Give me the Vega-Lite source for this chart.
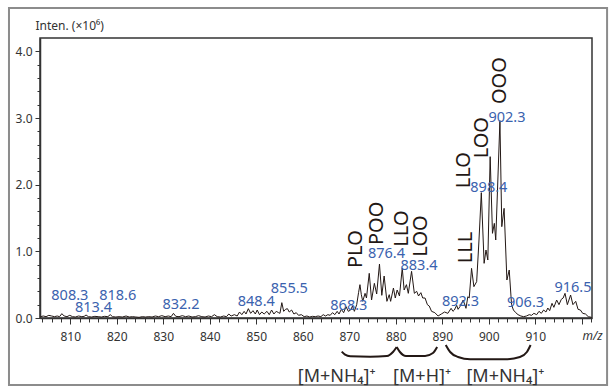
{
  "$schema": "https://vega.github.io/schema/vega-lite/v6.json",
  "width": 552,
  "height": 280,
  "autosize": {"type": "none"},
  "padding": {"left": 40, "top": 38, "right": 19, "bottom": 72},
  "config": {
    "font": "Noto Sans",
    "view": {"stroke": "#333333", "strokeWidth": 1.5},
    "background": "white"
  },
  "datasets": {
    "frame": [{"x": 796.83, "x2": 925.44, "y": 4.65, "y2": -1.005}],
    "spec": [
      {"x": 803.6, "y": 0.02}, {"x": 804.2, "y": 0.03}, {"x": 804.8, "y": 0.02}, {"x": 805.4, "y": 0.04},
      {"x": 806.0, "y": 0.03}, {"x": 806.6, "y": 0.02}, {"x": 807.2, "y": 0.03}, {"x": 807.7, "y": 0.02},
      {"x": 808.2, "y": 0.065}, {"x": 808.7, "y": 0.03}, {"x": 809.3, "y": 0.02}, {"x": 809.9, "y": 0.04},
      {"x": 810.5, "y": 0.02}, {"x": 811.1, "y": 0.015}, {"x": 811.8, "y": 0.03}, {"x": 812.5, "y": 0.02},
      {"x": 813.0, "y": 0.025}, {"x": 813.4, "y": 0.045}, {"x": 813.9, "y": 0.02}, {"x": 814.6, "y": 0.015},
      {"x": 815.3, "y": 0.025}, {"x": 816.0, "y": 0.02}, {"x": 816.7, "y": 0.015}, {"x": 817.4, "y": 0.025},
      {"x": 818.1, "y": 0.02}, {"x": 818.6, "y": 0.05}, {"x": 819.1, "y": 0.02}, {"x": 819.8, "y": 0.015},
      {"x": 820.5, "y": 0.02}, {"x": 821.2, "y": 0.015}, {"x": 822.0, "y": 0.03}, {"x": 822.7, "y": 0.015},
      {"x": 823.4, "y": 0.02}, {"x": 824.1, "y": 0.015}, {"x": 824.8, "y": 0.01}, {"x": 825.5, "y": 0.02},
      {"x": 826.2, "y": 0.015}, {"x": 826.9, "y": 0.02}, {"x": 827.6, "y": 0.015}, {"x": 828.3, "y": 0.03},
      {"x": 829.0, "y": 0.02}, {"x": 829.7, "y": 0.035}, {"x": 830.4, "y": 0.02}, {"x": 831.1, "y": 0.03},
      {"x": 831.7, "y": 0.02}, {"x": 832.2, "y": 0.07}, {"x": 832.7, "y": 0.025}, {"x": 833.4, "y": 0.02},
      {"x": 834.1, "y": 0.035}, {"x": 834.8, "y": 0.02}, {"x": 835.5, "y": 0.03}, {"x": 836.2, "y": 0.015},
      {"x": 836.9, "y": 0.02}, {"x": 837.6, "y": 0.035}, {"x": 838.3, "y": 0.02}, {"x": 839.0, "y": 0.015},
      {"x": 839.7, "y": 0.03}, {"x": 840.4, "y": 0.02}, {"x": 841.0, "y": 0.05}, {"x": 841.6, "y": 0.02},
      {"x": 842.3, "y": 0.015}, {"x": 843.0, "y": 0.03}, {"x": 843.6, "y": 0.02}, {"x": 844.1, "y": 0.06},
      {"x": 844.6, "y": 0.03}, {"x": 845.3, "y": 0.05}, {"x": 845.9, "y": 0.03}, {"x": 846.4, "y": 0.09},
      {"x": 846.9, "y": 0.05}, {"x": 847.4, "y": 0.1}, {"x": 847.8, "y": 0.06}, {"x": 848.3, "y": 0.14},
      {"x": 848.8, "y": 0.07}, {"x": 849.3, "y": 0.11}, {"x": 849.8, "y": 0.06}, {"x": 850.2, "y": 0.12},
      {"x": 850.7, "y": 0.05}, {"x": 851.2, "y": 0.09}, {"x": 851.7, "y": 0.06}, {"x": 852.3, "y": 0.1},
      {"x": 852.8, "y": 0.05}, {"x": 853.3, "y": 0.12}, {"x": 853.8, "y": 0.06}, {"x": 854.3, "y": 0.1},
      {"x": 854.8, "y": 0.08}, {"x": 855.1, "y": 0.07}, {"x": 855.5, "y": 0.23}, {"x": 855.9, "y": 0.1},
      {"x": 856.3, "y": 0.13}, {"x": 856.7, "y": 0.14}, {"x": 857.1, "y": 0.09}, {"x": 857.6, "y": 0.12},
      {"x": 858.1, "y": 0.06}, {"x": 858.6, "y": 0.08}, {"x": 859.1, "y": 0.04}, {"x": 859.7, "y": 0.05},
      {"x": 860.3, "y": 0.02}, {"x": 860.9, "y": 0.03}, {"x": 861.5, "y": 0.015}, {"x": 862.1, "y": 0.025},
      {"x": 862.7, "y": 0.02}, {"x": 863.3, "y": 0.03}, {"x": 863.9, "y": 0.02}, {"x": 864.4, "y": 0.05},
      {"x": 864.9, "y": 0.03}, {"x": 865.4, "y": 0.05}, {"x": 865.9, "y": 0.04}, {"x": 866.4, "y": 0.08},
      {"x": 866.9, "y": 0.05}, {"x": 867.4, "y": 0.1}, {"x": 867.8, "y": 0.06}, {"x": 868.3, "y": 0.13},
      {"x": 868.8, "y": 0.08}, {"x": 869.3, "y": 0.17}, {"x": 869.8, "y": 0.1}, {"x": 870.3, "y": 0.12},
      {"x": 870.7, "y": 0.18}, {"x": 871.1, "y": 0.1}, {"x": 871.6, "y": 0.2}, {"x": 872.0, "y": 0.38},
      {"x": 872.3, "y": 0.5}, {"x": 872.6, "y": 0.35}, {"x": 872.9, "y": 0.25}, {"x": 873.4, "y": 0.37},
      {"x": 873.7, "y": 0.3}, {"x": 874.3, "y": 0.67}, {"x": 874.8, "y": 0.27}, {"x": 875.4, "y": 0.52},
      {"x": 875.9, "y": 0.36}, {"x": 876.5, "y": 0.81}, {"x": 877.0, "y": 0.34}, {"x": 877.5, "y": 0.63},
      {"x": 878.1, "y": 0.25}, {"x": 878.6, "y": 0.35}, {"x": 878.9, "y": 0.25}, {"x": 879.5, "y": 0.45},
      {"x": 879.9, "y": 0.3}, {"x": 880.3, "y": 0.42}, {"x": 880.8, "y": 0.33}, {"x": 881.4, "y": 0.75},
      {"x": 881.8, "y": 0.42}, {"x": 882.3, "y": 0.5}, {"x": 882.7, "y": 0.37}, {"x": 883.4, "y": 0.7},
      {"x": 884.0, "y": 0.37}, {"x": 884.5, "y": 0.4}, {"x": 884.9, "y": 0.33}, {"x": 885.4, "y": 0.38},
      {"x": 885.8, "y": 0.3}, {"x": 886.3, "y": 0.3}, {"x": 886.8, "y": 0.2}, {"x": 887.2, "y": 0.18},
      {"x": 887.7, "y": 0.1}, {"x": 888.4, "y": 0.08}, {"x": 889.1, "y": 0.03}, {"x": 889.8, "y": 0.06},
      {"x": 890.5, "y": 0.09}, {"x": 891.2, "y": 0.07}, {"x": 891.9, "y": 0.145}, {"x": 892.3, "y": 0.1},
      {"x": 892.6, "y": 0.12}, {"x": 893.1, "y": 0.19}, {"x": 893.4, "y": 0.13}, {"x": 893.8, "y": 0.17},
      {"x": 894.5, "y": 0.27}, {"x": 895.1, "y": 0.145}, {"x": 895.5, "y": 0.32}, {"x": 895.8, "y": 0.3},
      {"x": 896.3, "y": 0.745}, {"x": 896.8, "y": 0.47}, {"x": 897.4, "y": 0.545}, {"x": 897.9, "y": 1.17},
      {"x": 898.4, "y": 1.88}, {"x": 899.0, "y": 0.82}, {"x": 899.4, "y": 1.02}, {"x": 899.8, "y": 0.87},
      {"x": 900.3, "y": 2.42}, {"x": 900.8, "y": 1.27}, {"x": 901.2, "y": 1.42}, {"x": 901.5, "y": 1.17},
      {"x": 902.4, "y": 2.96}, {"x": 902.8, "y": 1.37}, {"x": 903.3, "y": 1.645}, {"x": 903.9, "y": 0.57},
      {"x": 904.4, "y": 0.72}, {"x": 904.9, "y": 0.2}, {"x": 905.3, "y": 0.12}, {"x": 905.8, "y": 0.08},
      {"x": 906.3, "y": 0.05}, {"x": 906.9, "y": 0.03}, {"x": 907.5, "y": 0.02}, {"x": 908.1, "y": 0.03},
      {"x": 908.7, "y": 0.05}, {"x": 909.2, "y": 0.04}, {"x": 909.7, "y": 0.07}, {"x": 910.3, "y": 0.05},
      {"x": 910.8, "y": 0.1}, {"x": 911.3, "y": 0.07}, {"x": 911.8, "y": 0.12}, {"x": 912.3, "y": 0.09},
      {"x": 912.7, "y": 0.15}, {"x": 913.1, "y": 0.11}, {"x": 913.6, "y": 0.22}, {"x": 914.0, "y": 0.16},
      {"x": 914.6, "y": 0.27}, {"x": 915.1, "y": 0.2}, {"x": 915.6, "y": 0.28}, {"x": 916.0, "y": 0.3},
      {"x": 916.4, "y": 0.37}, {"x": 916.9, "y": 0.2}, {"x": 917.6, "y": 0.345}, {"x": 918.1, "y": 0.2},
      {"x": 918.7, "y": 0.25}, {"x": 919.2, "y": 0.13}, {"x": 919.7, "y": 0.12}, {"x": 920.2, "y": 0.07},
      {"x": 920.8, "y": 0.06}, {"x": 921.4, "y": 0.02}, {"x": 922.1, "y": 0.01}
    ],
    "peaks": [
      {"x": 808.3, "y": 0.27, "t": "808.3"},
      {"x": 813.4, "y": 0.094, "t": "813.4"},
      {"x": 818.6, "y": 0.27, "t": "818.6"},
      {"x": 832.2, "y": 0.13, "t": "832.2"},
      {"x": 848.4, "y": 0.18, "t": "848.4"},
      {"x": 855.5, "y": 0.37, "t": "855.5"},
      {"x": 868.3, "y": 0.12, "t": "868.3"},
      {"x": 876.4, "y": 0.894, "t": "876.4"},
      {"x": 883.4, "y": 0.72, "t": "883.4"},
      {"x": 892.3, "y": 0.18, "t": "892.3"},
      {"x": 898.4, "y": 1.89, "t": "898.4"},
      {"x": 902.3, "y": 2.94, "t": "902.3"},
      {"x": 906.3, "y": 0.17, "t": "906.3"},
      {"x": 916.5, "y": 0.39, "t": "916.5"}
    ],
    "comp": [
      {"x": 871.4, "y": 0.75, "t": "PLO"},
      {"x": 875.9, "y": 1.095, "t": "POO"},
      {"x": 881.35, "y": 1.07, "t": "LLO"},
      {"x": 885.4, "y": 0.92, "t": "LOO"},
      {"x": 895.1, "y": 0.82, "t": "LLL"},
      {"x": 894.6, "y": 1.945, "t": "LLO"},
      {"x": 898.65, "y": 2.395, "t": "LOO"},
      {"x": 902.4, "y": 3.21, "t": "OOO"}
    ],
    "br": [
      {"g": 1, "x": 868.38, "y": -0.505}, {"g": 1, "x": 869.1, "y": -0.55}, {"g": 1, "x": 870.2, "y": -0.575},
      {"g": 1, "x": 874.5, "y": -0.58}, {"g": 1, "x": 878.1, "y": -0.57}, {"g": 1, "x": 879.4, "y": -0.51},
      {"g": 1, "x": 880.2, "y": -0.435},
      {"g": 2, "x": 880.2, "y": -0.435}, {"g": 2, "x": 880.9, "y": -0.51}, {"g": 2, "x": 882.2, "y": -0.57},
      {"g": 2, "x": 886.3, "y": -0.57}, {"g": 2, "x": 888.0, "y": -0.525}, {"g": 2, "x": 888.9, "y": -0.435},
      {"g": 3, "x": 890.75, "y": -0.405}, {"g": 3, "x": 891.7, "y": -0.51}, {"g": 3, "x": 893.4, "y": -0.585},
      {"g": 3, "x": 896.0, "y": -0.62}, {"g": 3, "x": 903.5, "y": -0.62}, {"g": 3, "x": 906.7, "y": -0.585},
      {"g": 3, "x": 908.2, "y": -0.51}, {"g": 3, "x": 909.0, "y": -0.405}
    ],
    "ions": [
      {"x": 867.3, "y": -0.96, "t": "[M+NH₄]⁺"},
      {"x": 885.65, "y": -0.96, "t": "[M+H]⁺"},
      {"x": 903.56, "y": -0.96, "t": "[M+NH₄]⁺"}
    ]
  },
  "encoding": {
    "x": {
      "field": "x",
      "type": "quantitative",
      "scale": {"domain": [803.5, 922.2], "nice": false, "zero": false},
      "axis": {
        "values": [804,806,808,810,812,814,816,818,820,822,824,826,828,830,832,834,836,838,840,842,844,846,848,850,852,854,856,858,860,862,864,866,868,870,872,874,876,878,880,882,884,886,888,890,892,894,896,898,900,902,904,906,908,910,912,914,916,918,920,922],
        "format": "d",
        "labelExpr": "datum.value % 10 === 0 && datum.value < 915 ? datum.label : ''",
        "tickSize": {"condition": {"test": "datum.value % 10 === 0", "value": 6}, "value": 4},
        "tickColor": "#333333",
        "tickWidth": 1,
        "domainColor": "#333333",
        "domainWidth": 1.5,
        "labelFontSize": 12,
        "labelColor": "#333333",
        "labelPadding": 7,
        "labelFlush": false,
        "labelOverlap": false,
        "grid": false,
        "title": "m/z",
        "titleFontStyle": "italic",
        "titleFontWeight": "normal",
        "titleFontSize": 12,
        "titleColor": "#333333",
        "titleAnchor": "start",
        "titleAlign": "center",
        "titleBaseline": "alphabetic",
        "titleX": 552,
        "titleY": 21
      }
    },
    "y": {
      "field": "y",
      "type": "quantitative",
      "scale": {"domain": [0, 4.2], "nice": false, "zero": false},
      "axis": {
        "values": [0,0.2,0.4,0.6,0.8,1,1.2,1.4,1.6,1.8,2,2.2,2.4,2.6,2.8,3,3.2,3.4,3.6,3.8,4],
        "format": ".1f",
        "labelExpr": "abs(datum.value - round(datum.value)) < 0.01 ? datum.label : ''",
        "tickSize": {"condition": {"test": "abs(datum.value - round(datum.value)) < 0.01", "value": 5}, "value": 3},
        "tickColor": "#333333",
        "tickWidth": 1,
        "domainColor": "#333333",
        "domainWidth": 1.5,
        "labelFontSize": 12,
        "labelColor": "#333333",
        "labelPadding": 3,
        "labelOverlap": false,
        "grid": false,
        "title": "Inten. (×10⁶)",
        "titleAngle": 0,
        "titleFontWeight": "normal",
        "titleFontSize": 12,
        "titleColor": "#333333",
        "titleAnchor": "start",
        "titleAlign": "left",
        "titleBaseline": "alphabetic",
        "titleX": -5,
        "titleY": -9
      }
    }
  },
  "layer": [
    {
      "data": {"name": "frame"},
      "mark": {"type": "rect", "fill": null, "stroke": "#8c8c8c", "strokeWidth": 2},
      "encoding": {"x2": {"field": "x2"}, "y2": {"field": "y2"}}
    },
    {
      "data": {"name": "spec"},
      "mark": {"type": "line", "color": "#231815", "strokeWidth": 1, "interpolate": "linear"},
      "encoding": {}
    },
    {
      "data": {"name": "br"},
      "mark": {"type": "line", "color": "#231815", "strokeWidth": 2, "interpolate": "monotone"},
      "encoding": {"detail": {"field": "g"}}
    },
    {
      "data": {"name": "peaks"},
      "mark": {"type": "text", "color": "#3a62ae", "fontSize": 14.5, "align": "center", "baseline": "alphabetic", "dx": 7.5},
      "encoding": {"text": {"field": "t"}}
    },
    {
      "data": {"name": "comp"},
      "mark": {"type": "text", "color": "#231815", "fontSize": 20, "font": "Liberation Sans Narrow, Noto Sans", "angle": 270, "align": "left", "baseline": "middle"},
      "encoding": {"text": {"field": "t"}}
    },
    {
      "data": {"name": "ions"},
      "mark": {"type": "text", "color": "#333333", "fontSize": 18, "align": "center", "baseline": "alphabetic"},
      "encoding": {"text": {"field": "t"}}
    }
  ]
}
